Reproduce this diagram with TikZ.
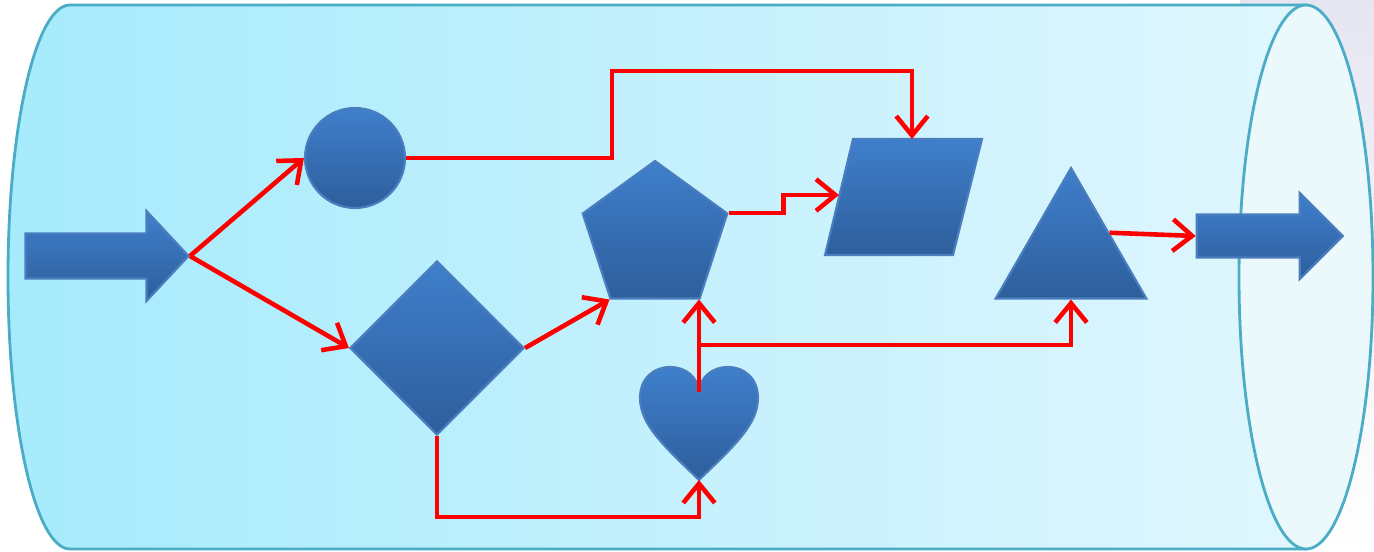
\documentclass[tikz,border=0pt]{standalone}
\usetikzlibrary{positioning, arrows.meta, shapes.geometric, shapes.arrows}
\definecolor{tubeline}{HTML}{4BACC6}
\definecolor{tubeleft}{HTML}{A6EBFC}
\definecolor{tuberight}{HTML}{E0F6FD}
\definecolor{tubeend}{HTML}{EBF9FD}
\definecolor{shapetop}{HTML}{3F7FCB}
\definecolor{shapebot}{HTML}{2E5E9C}
\definecolor{shapeline}{HTML}{4A7EBE}
\definecolor{lav}{HTML}{E6E6F2}
\begin{document}
\begin{tikzpicture}[
    blob/.style={draw=shapeline, line width=0.6pt, top color=shapetop, bottom color=shapebot, inner sep=0pt},
    link/.style={draw=red, line width=1.3pt, -{Straight Barb[length=5.5pt, width=9pt]}}]
    \useasboundingbox (0,0) rectangle (13.74,-5.52);
    \fill[white] (0,0) rectangle (13.74,-5.52);
    \shade[top color=lav, bottom color=white] (12.4,0) rectangle (13.74,-5.52);
    % the tube
    \shade[left color=tubeleft, right color=tuberight, draw=tubeline, line width=0.8pt]
      (13.06,-0.05) -- (0.70,-0.05) arc[start angle=90, end angle=270, x radius=0.62, y radius=2.72] -- (13.06,-5.49) -- cycle;
    \draw[tubeline, fill=tubeend, line width=0.8pt] (13.06,-2.77) ellipse [x radius=0.67, y radius=2.72];
    % shapes
    \node[blob, single arrow, inner ysep=0.215cm, minimum height=1.63cm, single arrow head extend=0.225cm, single arrow tip angle=94] (inarr) at (0.965,-2.56) {};
    \node[blob, circle, minimum size=1.0cm] (circ) at (3.55,-1.58) {};
    \node[blob, diamond, minimum width=1.74cm, minimum height=1.74cm] (diam) at (4.37,-3.48) {};
    \node[blob, regular polygon, regular polygon sides=5, minimum size=1.52cm] (pent) at (6.55,-2.37) {};
    \node[blob, regular polygon, regular polygon sides=3, minimum size=1.74cm] (tri) at (10.71,-2.55) {};
    \node[blob, single arrow, inner ysep=0.205cm, minimum height=1.46cm, single arrow head extend=0.215cm, single arrow tip angle=90] (outarr) at (12.59,-2.36) {};
    % parallelogram
    \shade[blob] (8.25,-2.55) -- (9.53,-2.55) -- (9.82,-1.39) -- (8.53,-1.39) -- cycle;
    \coordinate (paratop) at (9.12,-1.39);
    \coordinate (paraleft) at (8.39,-1.95);
    % heart
    \shade[blob] (6.99,-4.80) .. controls (6.65,-4.47) and (6.40,-4.25) .. (6.40,-3.98)
      .. controls (6.40,-3.78) and (6.54,-3.67) .. (6.70,-3.67)
      .. controls (6.86,-3.67) and (6.97,-3.77) .. (6.99,-3.90)
      .. controls (7.01,-3.77) and (7.12,-3.67) .. (7.28,-3.67)
      .. controls (7.44,-3.67) and (7.58,-3.78) .. (7.58,-3.98)
      .. controls (7.58,-4.25) and (7.33,-4.47) .. (6.99,-4.80) -- cycle;
    \coordinate (hearttop) at (6.99,-3.92);
    \coordinate (heartend) at (6.99,-4.80);
    \coordinate (fork) at (6.99,-3.45);
    % connectors
    \draw[link] (inarr.tip) -- (circ.west);
    \draw[link] (inarr.tip) -- (diam.west);
    \draw[link] (circ.east) -| (6.12,-0.71) -| (paratop);
    \draw[link] (diam.east) -- (pent.corner 3);
    \draw[link] (pent.corner 5) -- ++(0.55,0) |- (paraleft);
    \draw[link] (hearttop) -- (hearttop |- pent.corner 4);
    \draw[link] (fork) -| (tri.side 2);
    \draw[link] (diam.south) -- ++(0,-0.81) -| (heartend);
    \draw[link] (tri.side 3) -- (outarr.tail);
\end{tikzpicture}
\end{document}
